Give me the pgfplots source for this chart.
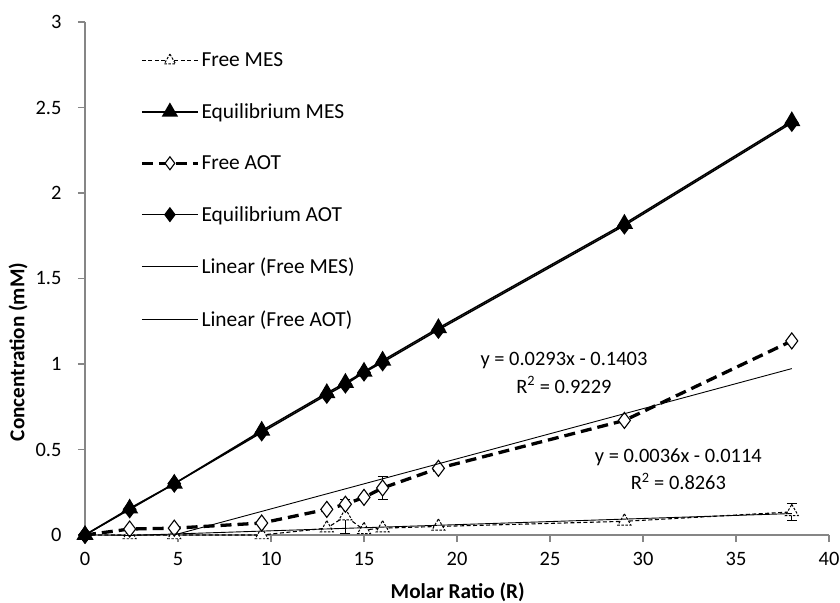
\documentclass[border=0pt]{standalone}
\usepackage{fontspec}
\setmainfont{Carlito}
\usepackage{pgfplots}
\pgfplotsset{compat=1.18}
\definecolor{axgray}{HTML}{868686}
\begin{document}
\begin{tikzpicture}
\begin{axis}[
  scale only axis,
  width=744bp, height=513bp,
  xmin=0, xmax=40, ymin=0, ymax=3,
  xtick={0,5,...,40}, ytick={0,0.5,...,3},
  axis x line=bottom, axis y line=left,
  axis line style={-,draw=axgray,line width=1.2pt},
  tick style={draw=axgray,line width=1.2pt},
  tick align=outside,
  major tick length=7bp,
  font=\fontsize{20.5}{24}\selectfont,
  /pgf/number format/assume math mode=true,
  xticklabel style={yshift=-7bp},
  yticklabel style={xshift=-13bp},
  xlabel={\textbf{Molar Ratio (R)}},
  ylabel={\textbf{Concentration (mM)}},
  xlabel style={font=\fontsize{21.3}{24}\selectfont, at={(axis description cs:0.501,-0.111)}, anchor=center},
  ylabel style={font=\fontsize{21.3}{24}\selectfont, at={(axis description cs:-0.090,0.357)}, anchor=center},
  clip mode=individual,
  legend cell align=left,
  legend style={draw=none, fill=none, at={(0.07,0.948)}, anchor=north west,
    row sep=31.5bp, font=\fontsize{21.5}{24}\selectfont},
  legend image code/.code={\draw[mark repeat=2,mark phase=2] plot coordinates {(0bp,0bp) (28bp,0bp) (56bp,0bp)};},
]
% Free MES
\addplot[black, dashed, dash pattern=on 4bp off 2.5bp, line width=1.1pt, mark=triangle*, mark size=7.5bp,
  mark options={solid, fill=white, line width=1pt, dash pattern=on 2.5pt off 1.5pt},
  legend image post style={mark size=6.5bp},
  error bars/.cd, y dir=both, y explicit, error bar style={solid,line width=0.8pt}, error mark options={rotate=90, mark size=5bp, solid}]
  table[x=x, y=y, y error=e] {
x y e
0 0 0
2.4 0.0 0
4.8 0.0 0
9.5 0.0 0
13 0.04 0
14 0.11 0.10
15 0.03 0
16 0.04 0
19 0.05 0
29 0.08 0
38 0.135 0.05
};
\addlegendentry{Free MES}
% Equilibrium MES
\addplot[black, solid, line width=1.5pt, mark=triangle*, mark size=8.5bp, mark options={fill=black},
  legend image post style={mark size=8bp}]
  coordinates {(0,0) (2.4,0.155) (4.8,0.30) (9.5,0.61) (13,0.83) (14,0.89) (15,0.955) (16,1.02) (19,1.21) (29,1.82) (38,2.42)};
\addlegendentry{Equilibrium MES}
% Free AOT
\addplot[black, dashed, dash pattern=on 11bp off 6bp, line width=3.3pt, mark=diamond*, mark size=8bp,
  mark options={solid, fill=white, line width=1.1pt},
  legend image post style={mark size=6.5bp},
  error bars/.cd, y dir=both, y explicit, error bar style={solid,line width=0.8pt}, error mark options={rotate=90, mark size=5bp, solid, line width=0.8pt}]
  table[x=x, y=y, y error=e] {
x y e
0 0 0
2.4 0.035 0
4.8 0.04 0
9.5 0.07 0
13 0.15 0
14 0.18 0
15 0.22 0
16 0.275 0.065
19 0.39 0
29 0.67 0
38 1.135 0
};
\addlegendentry{Free AOT}
% Equilibrium AOT
\addplot[black, solid, line width=1.5pt, mark=diamond*, mark size=8bp, mark options={fill=black},
  legend image post style={mark size=6.5bp}]
  coordinates {(0,0) (2.4,0.15) (4.8,0.30) (9.5,0.60) (13,0.82) (14,0.88) (15,0.95) (16,1.01) (19,1.20) (29,1.81) (38,2.41)};
\addlegendentry{Equilibrium AOT}
% Linear (Free MES)
\addplot[black, solid, line width=0.9pt] coordinates {(0,-0.0114) (38,0.1254)};
\addlegendentry{Linear (Free MES)}
% Linear (Free AOT)
\addplot[black, solid, line width=0.9pt] coordinates {(4.788,0) (38,0.9731)};
\addlegendentry{Linear (Free AOT)}
\node[align=center, font=\fontsize{20.5}{28}\selectfont] at (axis cs:25.75,0.95) {y = 0.0293x - 0.1403\\R\textsuperscript{2} = 0.9229};
\node[align=center, font=\fontsize{20.5}{28}\selectfont] at (axis cs:31.9,0.385) {y = 0.0036x - 0.0114\\R\textsuperscript{2} = 0.8263};
\end{axis}
\pgfresetboundingbox
\path ([shift={(-85bp,-68bp)}]current axis.south west) rectangle ([shift={(11bp,22bp)}]current axis.north east);
\end{tikzpicture}
\end{document}
